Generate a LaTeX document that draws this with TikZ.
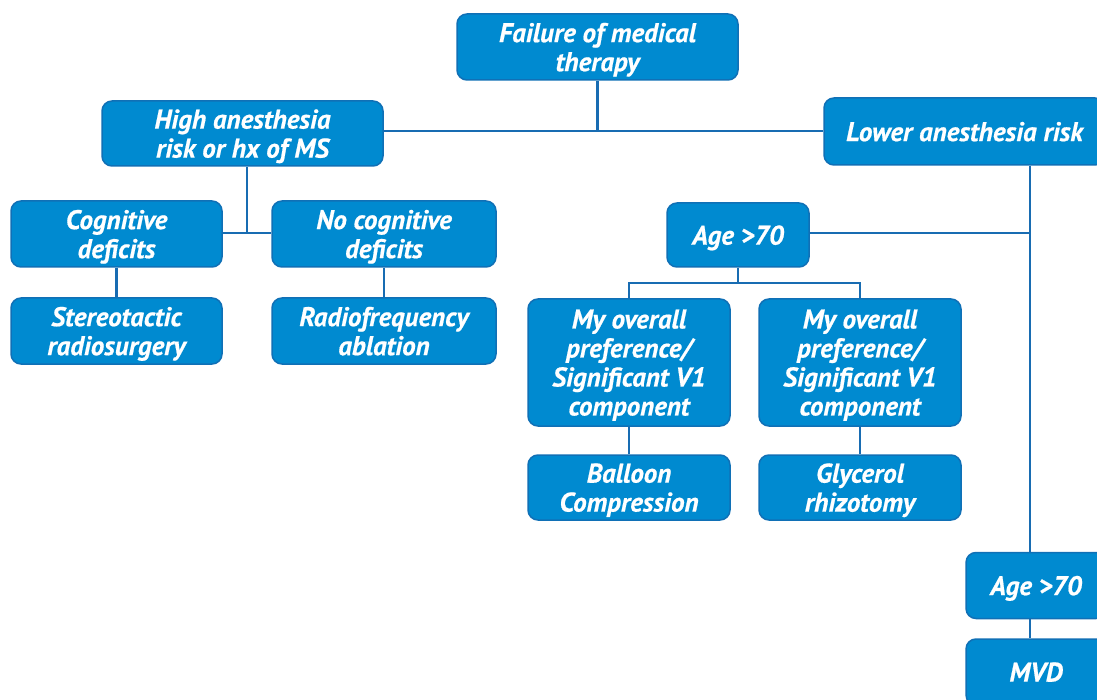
\documentclass[tikz,border=0pt]{standalone}
\usepackage{fontspec}
\setmainfont{PT Sans}[BoldItalicFont={PT Sans Bold Italic}, BoldItalicFeatures={FakeBold=0.6}]
\definecolor{boxfill}{RGB}{0,138,208}
\definecolor{boxborder}{RGB}{16,112,182}
\definecolor{linecol}{RGB}{24,108,178}
\begin{document}
\begin{tikzpicture}[x=1pt,y=-1pt,
 box/.style={draw=boxborder, fill=boxfill, line width=1.5pt, rounded corners=10pt, text=white,
   font=\fontsize{27}{29}\selectfont\bfseries\itshape, align=center, inner sep=0pt, text depth=0pt},
 link/.style={draw=linecol, line width=2.5pt}]
\useasboundingbox (0,0) rectangle (1097,700);
\clip (0,0) rectangle (1097,700);
% nodes
\node[box, minimum width=281pt, minimum height=66pt] (fail) at (597.5,47) {Failure of medical\\therapy};
\node[box, minimum width=281pt, minimum height=65pt] (high) at (242.5,133.5) {High anesthesia\\risk or hx of MS};
\node[box, minimum width=281pt, minimum height=67pt] (low) at (964.5,131.5) {Lower anesthesia risk};
\node[box, minimum width=211pt, minimum height=66pt] (cog) at (116.5,234) {Cognitive\\deficits};
\node[box, minimum width=224pt, minimum height=66pt] (nocog) at (384,234) {No cognitive\\deficits};
\node[box, minimum width=211pt, minimum height=66pt] (stereo) at (116.5,331) {Stereotactic\\radiosurgery};
\node[box, minimum width=224pt, minimum height=66pt] (radio) at (384,331) {Radiofrequency\\ablation};
\node[box, minimum width=142pt, minimum height=64pt] (age1) at (738,235) {Age >70};
\node[box, minimum width=202pt, minimum height=127pt] (pref1) at (629,362.5) {My overall\\preference/\\Significant V1\\component};
\node[box, minimum width=202pt, minimum height=127pt] (pref2) at (860,362.5) {My overall\\preference/\\Significant V1\\component};
\node[box, minimum width=202pt, minimum height=65pt] (balloon) at (629,487.5) {Balloon\\Compression};
\node[box, minimum width=202pt, minimum height=65pt] (glyc) at (860,487.5) {Glycerol\\rhizotomy};
\node[box, minimum width=140pt, minimum height=66pt] (age2) at (1036,585.5) {Age >70};
\node[box, minimum width=140pt, minimum height=66pt] (mvd) at (1036,672) {MVD};
% junctions
\coordinate (j1) at (597.5,131);
\coordinate (j2) at (247,233);
\coordinate (j3) at (1030,233);
\coordinate (j4) at (738,283);
% connectors
\draw[link] (fail.south) -- (j1);
\draw[link] (j1 -| high.east) -- (j1 -| low.west);
\draw[link] (j2 |- high.south) -- (j2);
\draw[link] (j2 -| cog.east) -- (j2 -| nocog.west);
\draw[link] (cog.south) -- (stereo.north);
\draw[link] (nocog.south) -- (radio.north);
\draw[link] (age1.east |- j3) -- (j3);
\draw[link] (j3 |- low.south) -- (j3 |- age2.north);
\draw[link] (age1.south) -- (j4);
\draw[link] (pref1.north) -- (pref1.north |- j4) -- (pref2.north |- j4) -- (pref2.north);
\draw[link] (pref1.south) -- (balloon.north);
\draw[link] (pref2.south) -- (glyc.north);
\draw[link] (j3 |- age2.south) -- (j3 |- mvd.north);
\end{tikzpicture}
\end{document}
